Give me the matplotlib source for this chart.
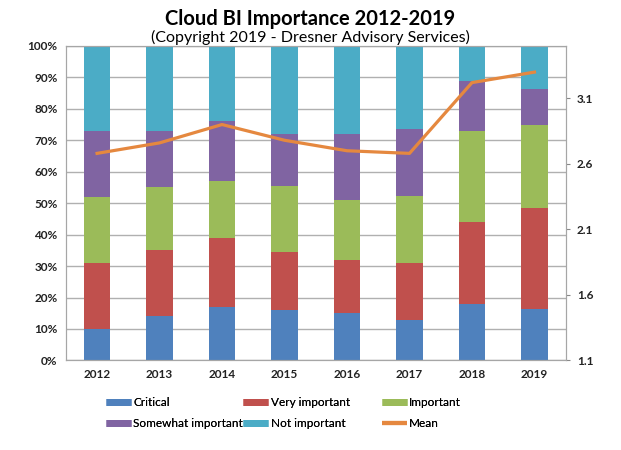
import matplotlib.pyplot as plt
from matplotlib.lines import Line2D
import numpy as np

years = ["2012", "2013", "2014", "2015", "2016", "2017", "2018", "2019"]
critical = [10, 14, 17, 16, 15, 13, 18, 16.4]
very_important = [21, 21, 22, 18.6, 17, 18.1, 26, 32]
important = [21, 20, 18, 20.9, 19, 21.3, 28.9, 26.5]
somewhat_important = [21, 18, 19, 16.6, 21, 21.2, 15.9, 11.5]
not_important = [27, 27, 24, 27.9, 28, 26.4, 11.2, 13.6]
mean = [2.68, 2.76, 2.90, 2.78, 2.70, 2.68, 3.22, 3.30]

series_names = ["Critical", "Very important", "Important",
                "Somewhat important", "Not important"]
series_vals = [critical, very_important, important,
               somewhat_important, not_important]
colors = ["#4F81BD", "#C0504D", "#9BBB59", "#8064A2", "#4BACC6"]
mean_color = "#E5883F"

plt.rcParams['font.family'] = ['Lato', 'DejaVu Sans']

fig = plt.figure(figsize=(6.21, 4.5), dpi=100)
ax = fig.add_axes([0.106, 0.199, 0.805, 0.699])

x = np.arange(len(years))
bottom = np.zeros(len(years))
for name, vals, c in zip(series_names, series_vals, colors):
    ax.bar(x, vals, bottom=bottom, width=0.42, color=c, zorder=2)
    bottom += np.array(vals)

ax.set_xlim(-0.5, len(years) - 0.5)
ax.set_ylim(0, 100)
ax.set_yticks(range(0, 101, 10))
ax.set_yticklabels([f"{v}%" for v in range(0, 101, 10)])
ax.set_xticks(x)
ax.set_xticklabels(years)
ax.grid(axis='y', color='#B0B0B0', lw=1, zorder=0)
ax.tick_params(length=0, labelsize=8.5, pad=6, colors='#222222')
for lab in ax.get_xticklabels() + ax.get_yticklabels():
    lab.set_fontweight('bold')
for s in ax.spines.values():
    s.set_color('#A6A6A6')

ax2 = ax.twinx()
ax2.plot(x, mean, color=mean_color, lw=2.3, zorder=5)
ax2.set_ylim(1.1, 3.5)
ax2.set_yticks([1.1, 1.6, 2.1, 2.6, 3.1])
ax2.tick_params(axis='y', length=3, labelsize=8.5, pad=5, labelcolor='#222222',
                color='#888888')
for lab in ax2.get_yticklabels():
    lab.set_fontweight('bold')
for s in ax2.spines.values():
    s.set_color('#A6A6A6')

fig.text(0.5, 0.958, "Cloud BI Importance 2012-2019", ha='center', va='center',
         fontsize=14.5, fontweight='bold')
fig.text(0.5, 0.916, "(Copyright 2019 - Dresner Advisory Services)",
         ha='center', va='center', fontsize=11.5)

# legend, one column at a time like Excel
handles = [Line2D([], [], color=c, lw=5, solid_capstyle='butt') for c in colors]
handles.append(Line2D([], [], color=mean_color, lw=3, solid_capstyle='butt'))
labels = series_names + ["Mean"]
col_x = [0.171, 0.392, 0.615]
for i, cx in enumerate(col_x):
    idx = [i, i + 3]
    leg = fig.legend([handles[j] for j in idx], [labels[j] for j in idx],
                     loc='upper left', bbox_to_anchor=(cx, 0.118),
                     frameon=False, fontsize=8.5, handlelength=2.1,
                     handletextpad=0.2, labelspacing=0.85, borderpad=0,
                     borderaxespad=0)
    fig.add_artist(leg)

fig.savefig("out.png", dpi=100)
